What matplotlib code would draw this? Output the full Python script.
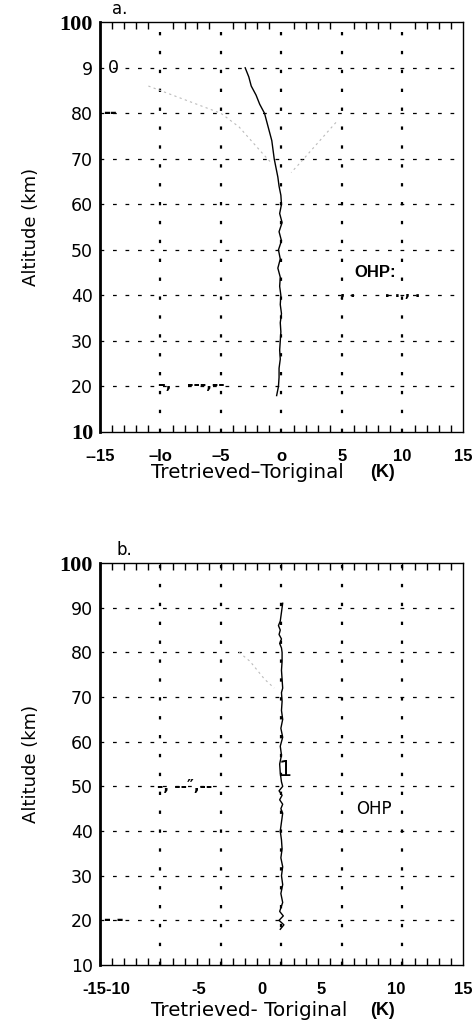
import numpy as np
import matplotlib
matplotlib.use("Agg")
import matplotlib.pyplot as plt

# altitude (km) and temperature difference (K)
alt_a = [90, 88, 86, 84, 82, 80, 78, 76, 74, 72, 70, 68, 66, 64, 62, 60,
         58, 56, 54, 52, 50, 48, 46, 44, 42, 40, 38, 36, 34, 32, 30, 28,
         26, 24, 22, 20, 18]
dt_a = [-3.0, -2.7, -2.5, -2.1, -1.8, -1.4, -1.2, -1.0, -0.8, -0.7, -0.6,
        -0.45, -0.3, -0.2, -0.05, 0.0, -0.15, 0.05, -0.2, 0.0, -0.25, -0.1,
        -0.3, -0.1, -0.15, -0.05, -0.1, 0.0, -0.1, -0.05, -0.1, -0.15, -0.1,
        -0.2, -0.2, -0.25, -0.4]

# faint envelope lines in panel a
env_left_alt = [86, 83, 80, 77, 74, 71, 69]
env_left_dt = [-11.0, -8.0, -5.0, -3.5, -2.5, -1.5, -0.8]
env_right_alt = [78, 75, 72, 69, 67]
env_right_dt = [4.5, 3.5, 2.5, 1.5, 0.8]

alt_b = [91, 89, 87, 86, 85, 84, 83, 82, 81, 80, 78, 76, 74, 72, 71, 69,
         67, 65, 63, 61, 59, 57, 55, 53, 51, 50, 49, 48, 47, 46, 45, 44,
         42, 40, 38, 36, 34, 32, 30, 28, 26, 24, 22, 21, 20, 19, 18]
dt_b = [0.1, 0.0, -0.1, -0.25, -0.1, -0.2, 0.0, -0.15, 0.0, 0.05, 0.05,
        0.0, 0.05, 0.1, 0.0, 0.05, 0.0, 0.1, -0.05, 0.1, -0.1, 0.0, -0.15,
        -0.1, 0.0, 0.1, -0.2, 0.05, -0.15, 0.1, -0.05, 0.1, 0.0, -0.1, 0.0,
        0.05, -0.05, 0.1, 0.0, 0.1, -0.05, 0.1, -0.15, 0.15, -0.2, 0.2, -0.1]
env_b_alt = [80, 78, 76, 74, 72]
env_b_dt = [-3.5, -2.6, -2.0, -1.4, -0.6]

grid_x = [-10, -5, 0, 5, 10]
grid_y = [20, 30, 40, 50, 60, 70, 80, 90]
ytick_vals = [10, 20, 30, 40, 50, 60, 70, 80, 90, 100]
ylabels_a = ["10", "20", "30", "40", "50", "60", "70", "80", "9", "100"]
ylabels_b = ["10", "20", "30", "40", "50", "60", "70", "80", "90", "100"]
xlab_pos_a = [-15, -10, -5, 0, 5, 10, 15]
xlabels_a = ["--15", "\u2013lo", "\u20135", "o", "5", "10", "15"]
xlab_pos_b = [-14.5, -6.8, -1.6, 3.3, 9.5, 15]
xlabels_b = ["-15-10", "-5", "0", "5", "10", "15"]

sans = "DejaVu Sans"
fig = plt.figure(figsize=(4.77, 10.32), dpi=100)
ax_a = fig.add_axes([0.2096, 0.5814, 0.761, 0.397])
ax_b = fig.add_axes([0.2096, 0.0649, 0.761, 0.3895])


def style_axes(ax, ylabels, xpos, xlabels, serif_ten):
    ax.set_xlim(-15, 15)
    ax.set_ylim(10, 100)
    for gx in grid_x:
        ax.axvline(gx, color="black", lw=1.6, ls=(0, (1.5, 7)), zorder=1)
    for gy in grid_y:
        ax.axhline(gy, color="black", lw=0.9, ls=(0, (3, 7)), zorder=1)
    ax.set_yticks(ytick_vals)
    ax.set_yticklabels(ylabels, fontsize=12.5, family=sans)
    for lab in ax.get_yticklabels():
        txt = lab.get_text()
        if txt == "100" or (serif_ten and txt == "10"):
            lab.set_family("Liberation Serif")
            lab.set_fontweight("bold")
            lab.set_fontsize(16)
    ax.tick_params(axis="y", length=0, pad=5)
    ax.set_xticks(xpos)
    ax.set_xticklabels(xlabels, fontsize=12, fontweight="bold",
                       family="Liberation Sans")
    ax.set_xticks(np.arange(-15, 16, 1), minor=True)
    ax.tick_params(axis="x", which="major", length=0, pad=12)
    ax.tick_params(axis="x", which="minor", direction="in", top=True,
                   length=5, width=1)
    for s in ax.spines.values():
        s.set_linewidth(1.0)
    ax.spines["left"].set_linewidth(2.0)
    ax.set_ylabel("Altitude (km)", fontsize=13, family=sans, labelpad=14)


style_axes(ax_a, ylabels_a, xlab_pos_a, xlabels_a, True)
style_axes(ax_b, ylabels_b, xlab_pos_b, xlabels_b, False)

# panel a
ax_a.plot(env_left_dt, env_left_alt, color="#bbbbbb", lw=0.8, ls=(0, (2, 3)), zorder=2)
ax_a.plot(env_right_dt, env_right_alt, color="#bbbbbb", lw=0.8, ls=(0, (2, 3)), zorder=2)
ax_a.plot(dt_a, alt_a, color="black", lw=1.0, zorder=3)
ax_a.text(-13.9, 90, "0", fontsize=12.5, family=sans, va="center", ha="center")
ax_a.text(-14.7, 80, "--", fontsize=12, fontweight="bold", va="center")
ax_a.text(-10.2, 20.5, "\u2013,   ---,--", fontsize=11, fontweight="bold", va="center")
ax_a.text(6.0, 45, "OHP:", fontsize=12, fontweight="bold", family="Liberation Sans",
          va="center")
ax_a.text(4.8, 40.5, ", .      . . , .", fontsize=10, fontweight="bold", va="center")
ax_a.text(-14.0, 101, "a.", fontsize=12, family=sans, va="bottom")

# panel b
ax_b.plot(env_b_dt, env_b_alt, color="#bbbbbb", lw=0.8, ls=(0, (2, 3)), zorder=2)
ax_b.plot(dt_b, alt_b, color="black", lw=1.0, zorder=3)
ax_b.text(0.3, 51.5, "1", fontsize=15, family=sans, va="bottom", ha="center")
ax_b.text(-10.3, 50, "-, --\u2033,--", fontsize=11, fontweight="bold", va="center")
ax_b.text(6.2, 45, "OHP", fontsize=12, family=sans, va="center")
ax_b.text(-14.7, 20, "- -", fontsize=12, fontweight="bold", va="center")
ax_b.text(-13.6, 101, "b.", fontsize=12, family=sans, va="bottom")

# x axis titles: light "Tretrieved-Toriginal" followed by bold "(K)"
for ax, name, ypos in ((ax_a, "Tretrieved\u2013Toriginal", -0.098),
                       (ax_b, "Tretrieved- Toriginal", -0.112)):
    ax.text(0.14, ypos, name, transform=ax.transAxes, fontsize=14.3,
            family=sans, va="center", ha="left")
    ax.text(0.745, ypos, "(K)", transform=ax.transAxes, fontsize=13,
            fontweight="bold", family="Liberation Sans", va="center", ha="left")

fig.savefig("out.png", dpi=100)
